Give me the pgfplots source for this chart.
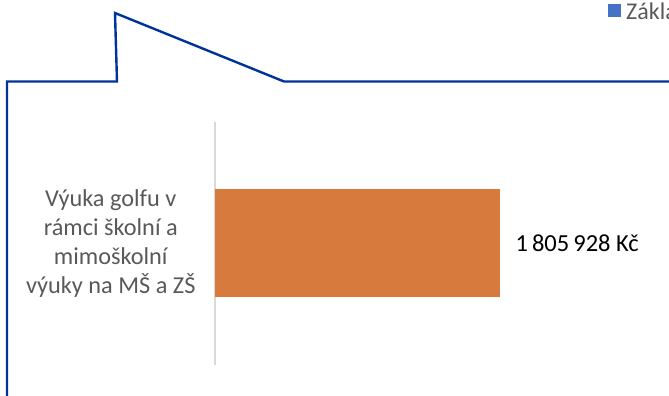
\documentclass[border=0pt]{standalone}
\usepackage{pgfplots}
\pgfplotsset{compat=1.18}
\usepackage{fontspec}
\setmainfont{Carlito}
\definecolor{barorange}{RGB}{214,122,62}
\definecolor{legblue}{RGB}{68,114,196}
\definecolor{callout}{RGB}{0,51,153}
\definecolor{labgray}{RGB}{89,89,89}
\definecolor{axgray}{RGB}{217,217,217}
\begin{document}
\begin{tikzpicture}[x=1pt,y=1pt]
\useasboundingbox (0,0) rectangle (669,396);
% decorative callout shape and legend, in pixel coordinates
\begin{axis}[at={(0,0)},anchor=south west,scale only axis,width=669pt,height=396pt,
  xmin=0,xmax=669,ymin=0,ymax=396,y dir=reverse,hide axis,clip=false]
\addplot[callout,line width=2.4pt,line join=miter] coordinates {(7,400) (7,81.5) (117,81.5) (115,13) (284,81.5) (680,81.5)};
\addplot[fill=legblue,draw=none] coordinates {(608,4.5) (621,4.5) (621,17.5) (608,17.5)} -- cycle;
\node[anchor=west,text=labgray,font=\fontsize{24}{28}\selectfont,inner sep=0pt] at (axis cs:626,11) {Základní};
\end{axis}
% bar chart
\begin{axis}[at={(215pt,31pt)},anchor=south west,scale only axis,width=454pt,height=243pt,
  xbar,bar width=108pt,xmin=0,xmax=2876800,ymin=-0.5,ymax=0.5,
  axis x line=none,axis y line*=left,
  y axis line style={axgray,line width=1.5pt,-},
  ytick={0},yticklabels={{Výuka golfu v\\rámci školní a\\mimoškolní\\výuky na MŠ a ZŠ}},
  yticklabel style={align=center,text=labgray,font=\fontsize{24.3}{29}\selectfont,xshift=-16pt},
  major tick length=0pt,
  nodes near coords={1\,805\,928 Kč},
  every node near coord/.append style={font=\fontsize{24.5}{29}\selectfont,text=black,xshift=12pt},
  clip=false]
\addplot[fill=barorange,draw=none] coordinates {(1805928,0)};
\end{axis}
\end{tikzpicture}
\end{document}
